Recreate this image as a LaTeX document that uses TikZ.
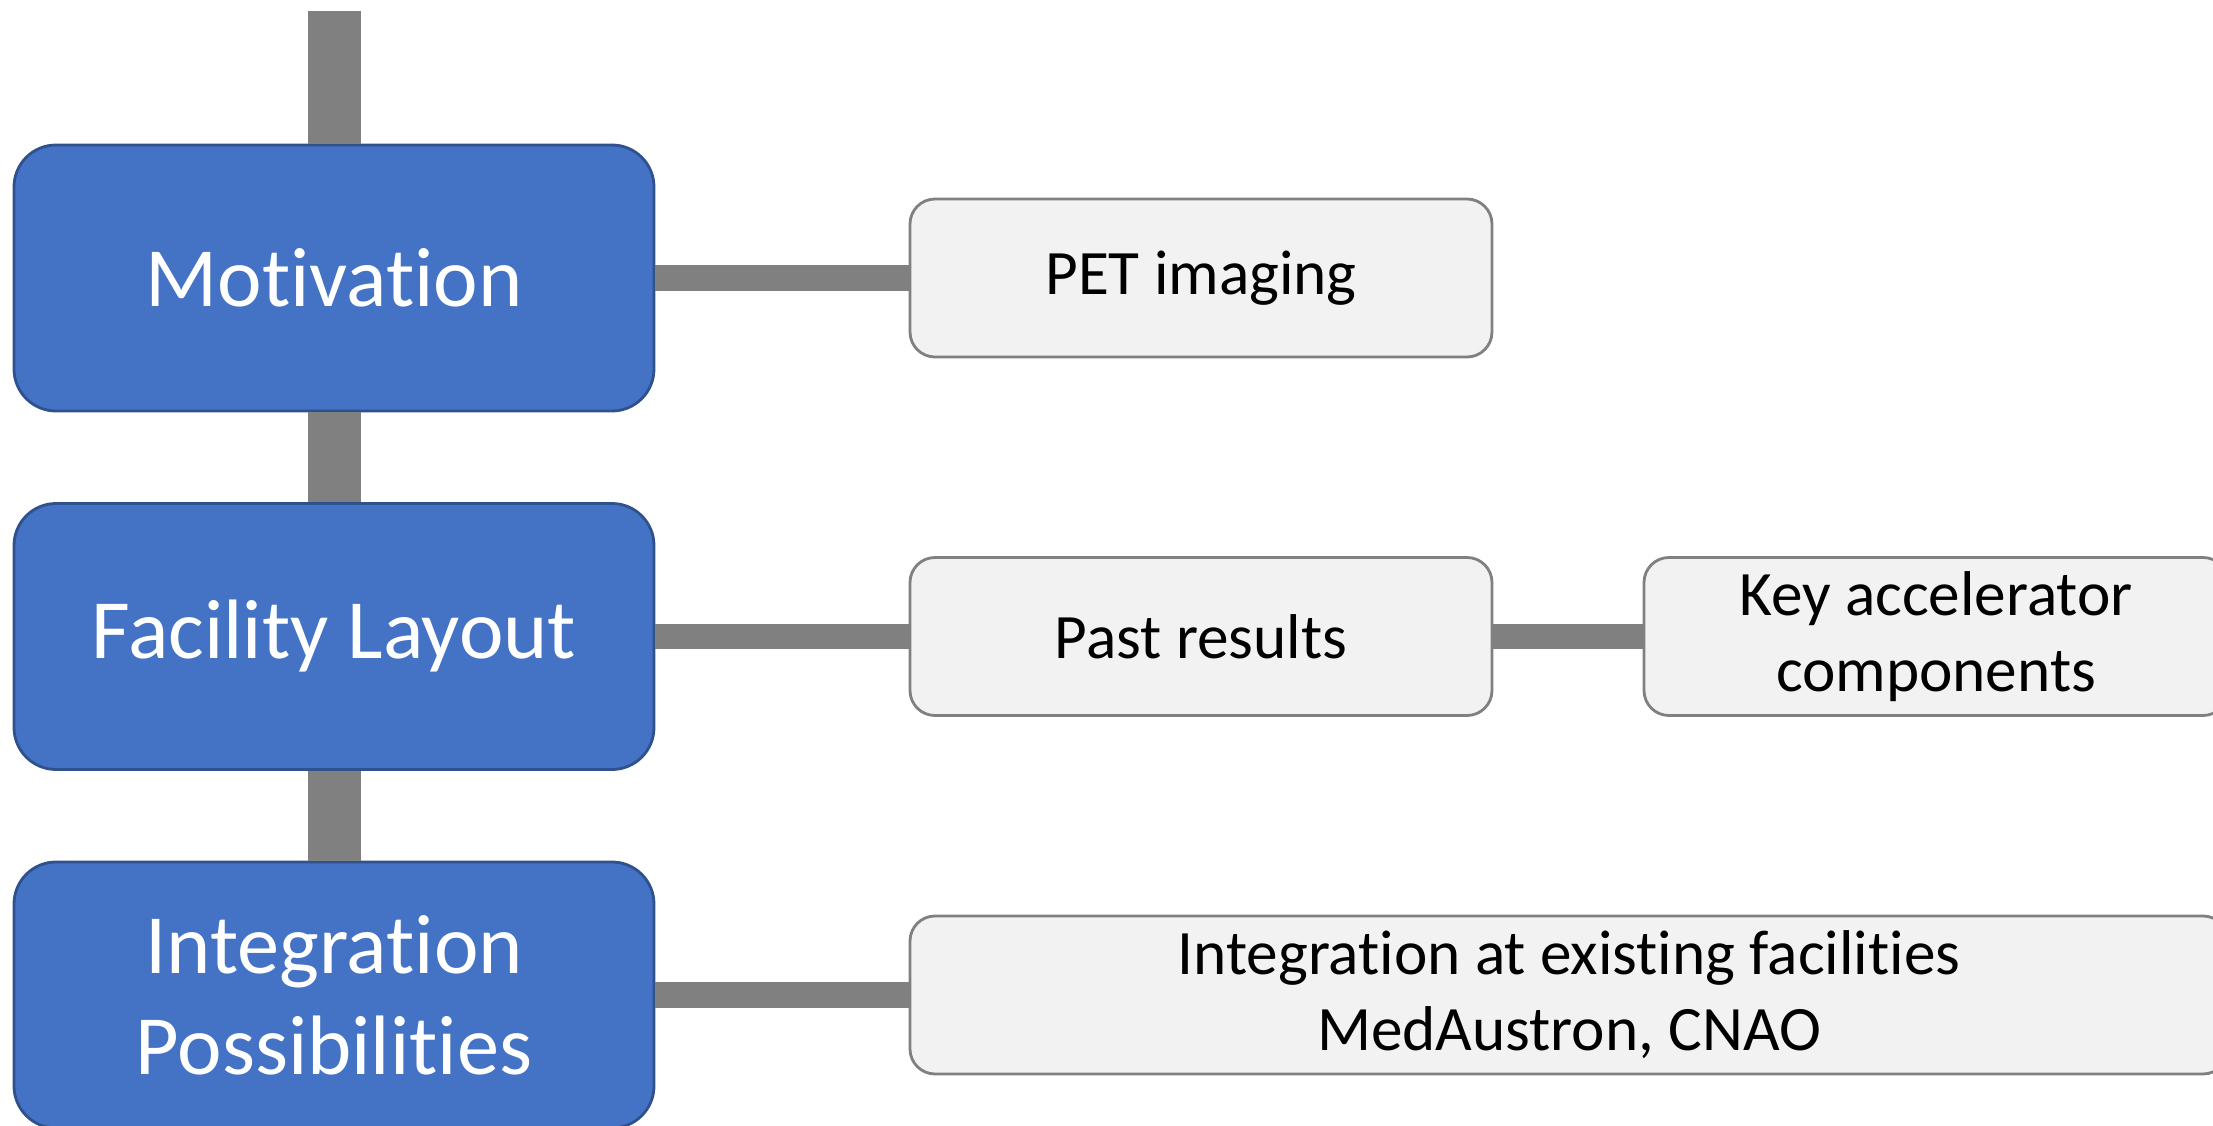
\documentclass[tikz,border=0pt]{standalone}
\usepackage{fontspec}
\setmainfont{Carlito}[Ligatures=NoCommon]
\usepackage{xcolor}
\usepackage{tikz}
\definecolor{topicblue}{HTML}{4472C4}
\definecolor{topicedge}{HTML}{2F528F}
\definecolor{detailfill}{HTML}{F2F2F2}
\definecolor{barcol}{HTML}{808080}
\tikzset{
    topicbox/.style={rectangle, rounded corners=0.42cm, fill=topicblue, draw=topicedge, line width=0.8pt,
        minimum width=6.4cm, minimum height=2.66cm, text=white, align=center,
        font=\fontsize{24}{28.8}\selectfont},
    detailbox/.style={rectangle, rounded corners=0.25cm, fill=detailfill, draw=barcol, line width=0.8pt,
        minimum height=1.58cm, align=center, font=\fontsize{18}{21.6}\selectfont},
    trunk/.style={draw=barcol, line width=0.53cm},
    branch/.style={draw=barcol, line width=0.26cm}
}

\begin{document}
\begin{tikzpicture}
            \useasboundingbox (0,0) rectangle (22.13,11.25);

            \node[topicbox] (mot) at (3.34,8.47) {Motivation};
            \node[topicbox] (fac) at (3.34,4.885) {Facility Layout};
            \node[topicbox] (integ) at (3.34,1.30) {Integration\\Possibilities};
            \coordinate (top) at (3.34,11.14);

            \node[detailbox, minimum width=5.82cm] (pet) at (12.01,8.47) {PET imaging};
            \node[detailbox, minimum width=5.82cm] (past) at (12.01,4.885) {Past results};
            \node[detailbox, minimum width=5.84cm] (key) at (19.36,4.885) {Key accelerator\\components};
            \node[detailbox, minimum width=13.18cm] (exist) at (15.69,1.30) {Integration at existing facilities\\MedAustron, CNAO};

            \draw[trunk] (top) -- (mot.north);
            \draw[trunk] (mot.south) -- (fac.north);
            \draw[trunk] (fac.south) -- (integ.north);

            \draw[branch] (mot.east) -- (pet.west);
            \draw[branch] (fac.east) -- (past.west);
            \draw[branch] (past.east) -- (key.west);
            \draw[branch] (integ.east) -- (exist.west);
        \end{tikzpicture}
\end{document}
